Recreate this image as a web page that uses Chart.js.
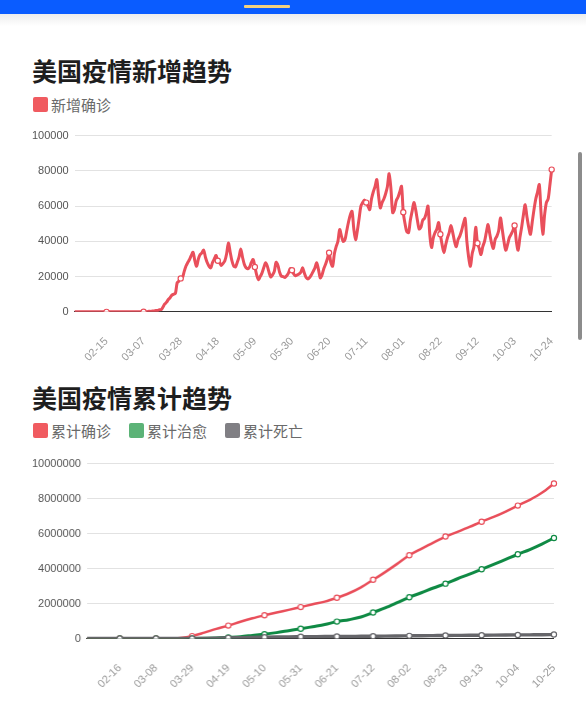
<!DOCTYPE html>
<html><head><meta charset="utf-8">
<script src="https://cdn.jsdelivr.net/npm/chart.js@4.4.0/dist/chart.umd.min.js"></script>
<style>
html,body{margin:0;padding:0;background:#fff;}
body{width:586px;height:704px;position:relative;overflow:hidden;font-family:"Noto Sans CJK SC",sans-serif;}
.topbar{position:absolute;left:0;top:0;width:586px;height:14px;background:#0a5cff;}
.pill{position:absolute;left:244px;top:5px;width:46px;height:3px;background:#f3d080;border-radius:1px;}
.shadow{position:absolute;left:0;top:14px;width:586px;height:12px;background:linear-gradient(#ededed,#ffffff);}
.title{position:absolute;left:32px;font-size:25px;line-height:25px;font-weight:bold;color:#1e1e1e;white-space:nowrap;}
.legend{position:absolute;left:33px;display:flex;align-items:center;font-size:15px;line-height:15px;color:#6a6a6a;white-space:nowrap;}
.item{display:flex;align-items:center;margin-right:18px;}
.box{width:15px;height:15px;border-radius:2px;margin-right:3px;}
.chartbox{position:absolute;}
.scroll{position:absolute;left:578px;top:152px;width:4px;height:188px;border-radius:2px;background:#8c8c8c;}
</style></head>
<body>
<div class="topbar"><div class="pill"></div></div>
<div class="shadow"></div>
<div class="title" style="top:58px">美国疫情新增趋势</div>
<div class="legend" style="top:97px"><div class="item"><div class="box" style="background:#f05b60"></div>新增确诊</div></div>
<div class="chartbox" id="box1" style="left:30px;top:126px;width:530px;height:230px"><canvas id="c1"></canvas></div>
<div class="title" style="top:385px">美国疫情累计趋势</div>
<div class="legend" style="top:423px">
  <div class="item"><div class="box" style="background:#f05b60"></div>累计确诊</div>
  <div class="item"><div class="box" style="background:#5cb377"></div>累计治愈</div>
  <div class="item"><div class="box" style="background:#807f84"></div>累计死亡</div>
</div>
<div class="chartbox" id="box2" style="left:40px;top:453px;width:525px;height:245px"><canvas id="c2"></canvas></div>
<div class="scroll"></div>
<script>
// ---------- DATA ----------
const dailyDates = [
'01-28','01-29','01-30','01-31',
'02-01','02-02','02-03','02-04','02-05','02-06','02-07','02-08','02-09','02-10',
'02-11','02-12','02-13','02-14','02-15','02-16','02-17','02-18','02-19','02-20',
'02-21','02-22','02-23','02-24','02-25','02-26','02-27','02-28','02-29',
'03-01','03-02','03-03','03-04','03-05','03-06','03-07','03-08','03-09','03-10',
'03-11','03-12','03-13','03-14','03-15','03-16','03-17','03-18','03-19','03-20',
'03-21','03-22','03-23','03-24','03-25','03-26','03-27','03-28','03-29','03-30','03-31',
'04-01','04-02','04-03','04-04','04-05','04-06','04-07','04-08','04-09','04-10',
'04-11','04-12','04-13','04-14','04-15','04-16','04-17','04-18','04-19','04-20',
'04-21','04-22','04-23','04-24','04-25','04-26','04-27','04-28','04-29','04-30',
'05-01','05-02','05-03','05-04','05-05','05-06','05-07','05-08','05-09','05-10',
'05-11','05-12','05-13','05-14','05-15','05-16','05-17','05-18','05-19','05-20',
'05-21','05-22','05-23','05-24','05-25','05-26','05-27','05-28','05-29','05-30','05-31',
'06-01','06-02','06-03','06-04','06-05','06-06','06-07','06-08','06-09','06-10',
'06-11','06-12','06-13','06-14','06-15','06-16','06-17','06-18','06-19','06-20',
'06-21','06-22','06-23','06-24','06-25','06-26','06-27','06-28','06-29','06-30',
'07-01','07-02','07-03','07-04','07-05','07-06','07-07','07-08','07-09','07-10',
'07-11','07-12','07-13','07-14','07-15','07-16','07-17','07-18','07-19','07-20',
'07-21','07-22','07-23','07-24','07-25','07-26','07-27','07-28','07-29','07-30','07-31',
'08-01','08-02','08-03','08-04','08-05','08-06','08-07','08-08','08-09','08-10',
'08-11','08-12','08-13','08-14','08-15','08-16','08-17','08-18','08-19','08-20',
'08-21','08-22','08-23','08-24','08-25','08-26','08-27','08-28','08-29','08-30','08-31',
'09-01','09-02','09-03','09-04','09-05','09-06','09-07','09-08','09-09','09-10',
'09-11','09-12','09-13','09-14','09-15','09-16','09-17','09-18','09-19','09-20',
'09-21','09-22','09-23','09-24','09-25','09-26','09-27','09-28','09-29','09-30',
'10-01','10-02','10-03','10-04','10-05','10-06','10-07','10-08','10-09','10-10',
'10-11','10-12','10-13','10-14','10-15','10-16','10-17','10-18','10-19','10-20',
'10-21','10-22','10-23','10-24'
];
const dailyNew = [
0,0,1,1,
1,1,3,0,1,0,0,0,0,1, 1,0,1,0,0,0,0,0,0,0, 2,0,0,18,0,6,1,1,6,
7,21,22,28,68,64,120,107,113,292, 287,440,510,750,800,1250,1300,2800,4500,5500,
7000,8000,9500,10000,10500,16500,17500,19000,19500,23000,26000,
28000,29700,32000,33800,29000,25900,30000,32500,33500,35000,
31000,28000,26000,25000,28000,30000,32000,29000,28000,26300,
27500,29000,33000,39000,34000,29000,26000,25500,28000,31000,
35700,31000,27000,25000,24500,25500,28000,29700,25500,21000,
18300,20000,22000,25000,27800,26000,22500,19800,21000,23000,
28100,26500,22500,20200,20000,19500,20500,22000,24500,23600,21500,
20500,21000,21500,22500,25000,22000,19500,18700,19500,21000,
23000,25000,27800,24000,19300,21000,24500,27000,30000,33500,
28000,25900,33000,37000,40000,46700,43000,40000,41000,46000,
51000,55000,57000,47000,41000,46000,53000,60000,62000,63500,
62000,60000,58000,64000,68000,71000,75000,66000,59000,62000,
64000,67000,71000,78400,70000,56300,58000,63000,65000,68000,71200,
56500,50000,45500,45000,52000,57000,62000,58000,52000,47000,
48000,52000,53000,56000,60000,44000,36500,42000,45000,47000,
50600,44000,38000,33600,38000,42000,45000,49000,45000,40000,37000,
41000,43000,46000,50000,53000,40000,31000,25900,33000,37000,
48000,39000,36000,32500,37000,40000,45000,49500,44000,39000,
36000,41000,43000,46000,53300,47000,40000,35000,38000,42000,
44000,46000,49000,40000,35000,42000,48000,55000,60800,54000,
48000,44000,51000,58000,64000,68000,72200,56000,44000,55000,
62000,64000,72000,80700
];
const dailyTicks = ['02-15','03-07','03-28','04-18','05-09','05-30','06-20','07-11','08-01','08-22','09-12','10-03','10-24'];

const cumAxisDates = dailyDates.concat(['10-25']);
const cumTicks = ['02-16','03-08','03-29','04-19','05-10','05-31','06-21','07-12','08-02','08-23','09-13','10-04','10-25'];
const cumDates = ['01-28','02-02','02-09','02-16','02-23','03-01','03-08','03-15','03-22','03-29',
'04-05','04-12','04-19','04-26','05-03','05-10','05-17','05-24','05-31','06-07','06-14','06-21','06-28',
'07-05','07-12','07-19','07-26','08-02','08-09','08-16','08-23','08-30','09-06','09-13','09-20','09-27',
'10-04','10-11','10-18','10-25'];
const confirmedTotal = [5,11,12,15,35,75,540,3500,33000,140000,
337000,555000,740000,965000,1160000,1330000,1490000,1640000,1800000,1960000,2110000,2330000,2590000,
2930000,3360000,3800000,4270000,4760000,5130000,5490000,5830000,6100000,6380000,6680000,6950000,7260000,
7600000,7930000,8330000,8860000];
const recoveredTotal = [0,0,1,3,3,7,8,50,150,5000,
17000,33000,70000,110000,180000,250000,340000,450000,560000,680000,800000,970000,1080000,
1230000,1490000,1750000,2050000,2360000,2620000,2890000,3140000,3420000,3680000,3960000,4240000,4530000,
4820000,5090000,5400000,5750000];
const deathsTotal = [0,0,0,0,0,1,21,68,470,2500,
9600,22000,40000,54000,67000,80000,90000,98000,104000,110000,116000,120000,126000,
130000,135000,140000,147000,155000,163000,170000,177000,183000,189000,194000,199000,204000,
209000,214000,219000,230000];

// ---------- STYLE ----------
const FONT = '"Liberation Sans", Arial, sans-serif';
Chart.defaults.font.family = FONT;
Chart.defaults.animation = false;
const RED = '#e94f5b', GREEN = '#0f8a44', GRAY = '#66666a';

function xAxis(labels, tickSet) {
  return {
    type: 'category', labels: labels,
    grid: {display: false},
    border: {display: true, color: '#333', width: 1},
    ticks: {
      autoSkip: false, maxRotation: 45, minRotation: 45, color: '#9a9a9a',
      font: {size: 11, family: FONT}, padding: 15,
      callback: (v, i) => tickSet.has(labels[i]) ? labels[i] : ''
    }
  };
}
function yAxis(max, step) {
  return {
    min: 0, max: max,
    grid: {color: '#e2e2e2', lineWidth: 1, drawTicks: false},
    border: {display: false},
    ticks: {stepSize: step, color: '#555', font: {size: 11, family: FONT}, padding: 6, callback: v => String(v)}
  };
}

const tickSet1 = new Set(dailyTicks);
const chart1 = new Chart(document.getElementById('c1'), {
  type: 'line',
  data: {labels: dailyDates, datasets: [{
    data: dailyNew, borderColor: RED, borderWidth: 3, tension: 0.3, fill: false,
    pointRadius: c => tickSet1.has(dailyDates[c.dataIndex]) ? 2.6 : 0,
    pointBackgroundColor: '#fff', pointBorderColor: RED, pointBorderWidth: 1.2
  }]},
  options: {
    responsive: true, maintainAspectRatio: false, events: [],
    layout: {padding: 0},
    plugins: {legend: {display: false}, tooltip: {enabled: false}},
    scales: {x: xAxis(dailyDates, tickSet1), y: yAxis(100000, 20000)}
  }
});

const tickSet2 = new Set(cumTicks);
function series(vals, color, width, order) {
  return {
    data: cumDates.map((d, i) => ({x: d, y: vals[i]})),
    borderColor: color, borderWidth: width, cubicInterpolationMode: 'monotone', fill: false, order: order,
    pointRadius: c => (c.raw && tickSet2.has(c.raw.x)) ? 2.6 : 0,
    pointBackgroundColor: '#fff', pointBorderColor: color, pointBorderWidth: 1.2
  };
}
const chart2 = new Chart(document.getElementById('c2'), {
  type: 'line',
  data: {labels: cumAxisDates, datasets: [
    series(confirmedTotal, RED, 2.5, 2),
    series(recoveredTotal, GREEN, 3, 1),
    series(deathsTotal, GRAY, 3.4, 0)
  ]},
  options: {
    responsive: true, maintainAspectRatio: false, events: [],
    layout: {padding: 0},
    plugins: {legend: {display: false}, tooltip: {enabled: false}},
    scales: {x: xAxis(cumAxisDates, tickSet2), y: yAxis(10000000, 2000000)}
  }
});

// align plot areas to the reference layout
function align(chart, box, t) {
  for (let k = 0; k < 4; k++) {
    const a = chart.chartArea;
    const L = parseFloat(box.style.left), T = parseFloat(box.style.top);
    const W = parseFloat(box.style.width), H = parseFloat(box.style.height);
    const dl = t.left - (L + a.left), dr = t.right - (L + a.right);
    const dt = t.top - (T + a.top), db = t.bottom - (T + a.bottom);
    const nw = W + dr - dl, nh = H + db - dt;
    box.style.left = (L + dl) + 'px'; box.style.top = (T + dt) + 'px';
    box.style.width = nw + 'px'; box.style.height = nh + 'px';
    chart.resize(nw, nh);
  }
}
align(chart1, document.getElementById('box1'), {left: 75, right: 552, top: 136, bottom: 312.3});
align(chart2, document.getElementById('box2'), {left: 87.3, right: 553.3, top: 463.3, bottom: 638.3});
</script>
</body></html>
